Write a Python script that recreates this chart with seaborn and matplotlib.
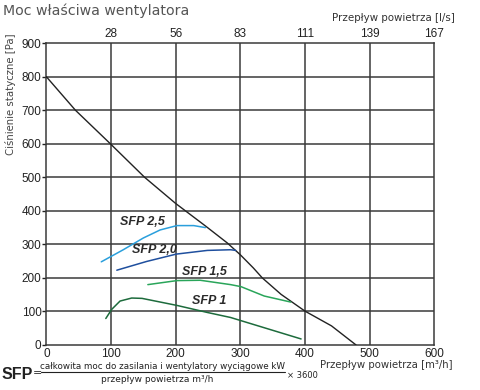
import pandas as pd
import matplotlib.pyplot as plt
import seaborn as sns

# curves (x = air flow m3/h, y = static pressure Pa)
fan_x = [0, 45, 99, 152, 200, 246, 280, 300, 320, 334, 363, 400, 441, 479]
fan_y = [800, 700, 600, 500, 422, 355, 304, 269, 230, 200, 151, 101, 57, 0]

sfp25_x = [85, 119, 150, 176, 202, 228, 246]
sfp25_y = [248, 284, 319, 343, 356, 356, 350]

sfp20_x = [109, 155, 201, 249, 285, 293]
sfp20_y = [223, 249, 271, 282, 284, 282]

sfp15_x = [157, 202, 238, 285, 301, 337, 378]
sfp15_y = [180, 192, 193, 180, 174, 146, 128]

sfp1_x = [92, 101, 114, 132, 148, 202, 249, 285, 302, 394]
sfp1_y = [79, 106, 131, 140, 139, 118, 97, 82, 72, 18]

x_ticks = [0, 100, 200, 300, 400, 500, 600]
ls_ticks = ['28', '56', '83', '111', '139', '167']
y_ticks = [0, 100, 200, 300, 400, 500, 600, 700, 800, 900]

curves = [
    ('fan', fan_x, fan_y, '#222222', 1.0),
    ('SFP 2,5', sfp25_x, sfp25_y, '#2a9fdc', 1.1),
    ('SFP 2,0', sfp20_x, sfp20_y, '#1f4f9e', 1.1),
    ('SFP 1,5', sfp15_x, sfp15_y, '#2aa55a', 1.1),
    ('SFP 1', sfp1_x, sfp1_y, '#1d6b3c', 1.1),
]

labels = [('SFP 2,5', 148, 368), ('SFP 2,0', 167, 282),
          ('SFP 1,5', 245, 219), ('SFP 1', 252, 130)]

sns.set_style('white')
plt.rcParams['font.family'] = ['Liberation Sans', 'DejaVu Sans']

fig = plt.figure(figsize=(4.8, 3.9), dpi=100)
ax = fig.add_axes([0.0965, 0.1154, 0.8083, 0.774])

grid_c = '#3a3a3a'
for x in x_ticks[1:-1]:
    ax.axvline(x, color=grid_c, lw=1.1, zorder=1)
for y in y_ticks[1:-1]:
    ax.axhline(y, color=grid_c, lw=1.1, zorder=1)

for name, xs, ys, col, lw in curves:
    df = pd.DataFrame({'x': xs, 'y': ys})
    sns.lineplot(data=df, x='x', y='y', ax=ax, color=col, lw=lw, sort=False,
                 estimator=None, zorder=3)

for txt, x, y in labels:
    ax.text(x, y, txt, ha='center', va='center', fontsize=9, fontweight='bold',
            fontstyle='italic', color='#2a2a2a', family='Liberation Sans', zorder=4)

ax.set_xlim(0, 600)
ax.set_ylim(0, 900)
ax.set_xticks(x_ticks)
ax.set_yticks(y_ticks)
ax.set_xlabel('')
ax.set_ylabel('')
ax.tick_params(axis='x', length=0, labelsize=8.5, pad=2.5, colors='#222222')
ax.tick_params(axis='y', length=3, width=1, labelsize=8.5, pad=0.5, colors='#222222', left=True)
for s in ax.spines.values():
    s.set_color(grid_c)
    s.set_linewidth(1.1)

top = ax.secondary_xaxis('top')
top.set_xticks(x_ticks[1:])
top.set_xticklabels(ls_ticks)
top.tick_params(length=0, labelsize=8.5, pad=2, colors='#222222')
top.spines['top'].set_visible(False)

fig.text(0.021, 0.759, 'Ciśnienie statyczne [Pa]', family='DejaVu Sans', fontsize=7.3,
         color='#444444', rotation=90, ha='center', va='center')

fig.text(0.006, 0.972, 'Moc właściwa wentylatora', family='DejaVu Sans',
         fontsize=10.2, color='#555555', va='center')
fig.text(0.948, 0.954, 'Przepływ powietrza [l/s]', family='DejaVu Sans',
         fontsize=7.4, color='#333333', ha='right', va='center')
fig.text(0.944, 0.064, 'Przepływ powietrza [m³/h]', family='DejaVu Sans',
         fontsize=7.3, color='#333333', ha='right', va='center')

# SFP formula
fig.text(0.004, 0.041, 'SFP', fontsize=11.5, fontweight='bold', color='#222222',
         family='Liberation Sans', va='center')
fig.text(0.069, 0.043, '=', fontsize=8, color='#222222', va='center', family='DejaVu Sans')
fig.text(0.339, 0.059, 'całkowita moc do zasilania i wentylatory wyciągowe kW',
         family='DejaVu Sans', fontsize=6.3, color='#222222', ha='center', va='center')
fig.text(0.328, 0.028, 'przepływ powietrza m³/h', family='DejaVu Sans',
         fontsize=6.5, color='#222222', ha='center', va='center')
fig.add_artist(plt.Line2D([0.085, 0.594], [0.046, 0.046], color='#222222', lw=0.8))
fig.text(0.598, 0.037, '× 3600', family='DejaVu Sans', fontsize=6.0,
         color='#222222', va='center')

fig.savefig('out.png', dpi=100)
